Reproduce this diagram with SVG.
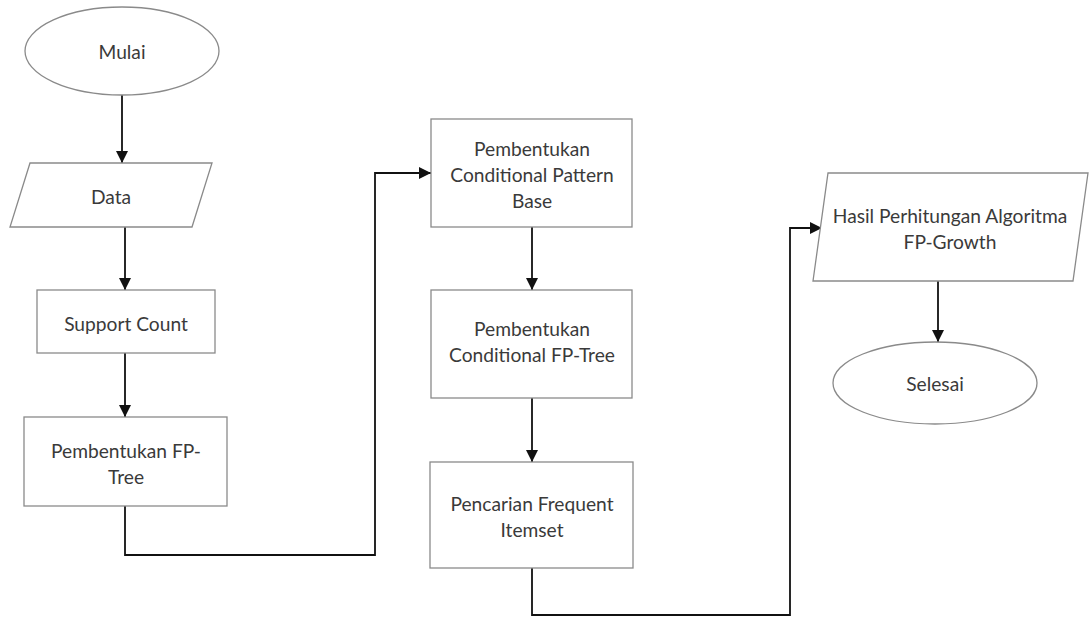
<svg xmlns="http://www.w3.org/2000/svg" width="1090" height="619" viewBox="0 0 1090 619">
<style>
.shape{fill:#fff;stroke:#8a8a8a;stroke-width:1.3}
.t{font-family:Lato,"Open Sans",sans-serif;font-size:19.2px;fill:#3a3a3a;text-anchor:middle;dominant-baseline:central}
.c{fill:none;stroke:#111;stroke-width:1.8}
</style>
<defs>
<marker id="ah" viewBox="0 0 10 10" refX="10" refY="5" markerWidth="12" markerHeight="12" markerUnits="userSpaceOnUse" orient="auto">
<path d="M0,0 L10,5 L0,10 z" fill="#111"/>
</marker>
</defs>
<rect width="1090" height="619" fill="#fff"/>
<g id="connectors">
<path class="c" d="M122,95 V163" marker-end="url(#ah)"/>
<path class="c" d="M125,227 V290" marker-end="url(#ah)"/>
<path class="c" d="M125,353 V417" marker-end="url(#ah)"/>
<path class="c" d="M125,506 V555 H375 V173 H431" marker-end="url(#ah)"/>
<path class="c" d="M532,227 V290" marker-end="url(#ah)"/>
<path class="c" d="M532,398 V462" marker-end="url(#ah)"/>
<path class="c" d="M532,568 V615 H790 V228 H822" marker-end="url(#ah)"/>
<path class="c" d="M938,281 V342" marker-end="url(#ah)"/>
</g>
<g id="mulai">
<ellipse class="shape" cx="122" cy="51" rx="97" ry="44"/>
<text class="t" x="122" y="51">Mulai</text>
</g>
<g id="data">
<polygon class="shape" points="30,163 212,163 192,227 10,227"/>
<text class="t" x="111" y="196">Data</text>
</g>
<g id="support">
<rect class="shape" x="37" y="290" width="178" height="63"/>
<text class="t" x="126" y="323">Support Count</text>
</g>
<g id="fptree">
<rect class="shape" x="24" y="417" width="203" height="89"/>
<text class="t" x="126" y="450">Pembentukan FP-</text>
<text class="t" x="126" y="476">Tree</text>
</g>
<g id="cpb">
<rect class="shape" x="431" y="119" width="201" height="108"/>
<text class="t" x="532" y="148">Pembentukan</text>
<text class="t" x="532" y="174">Conditional Pattern</text>
<text class="t" x="532" y="200">Base</text>
</g>
<g id="cfptree">
<rect class="shape" x="431" y="290" width="201" height="108"/>
<text class="t" x="532" y="328">Pembentukan</text>
<text class="t" x="532" y="354">Conditional FP-Tree</text>
</g>
<g id="frequent">
<rect class="shape" x="430" y="462" width="203" height="106"/>
<text class="t" x="532" y="503">Pencarian Frequent</text>
<text class="t" x="532" y="529">Itemset</text>
</g>
<g id="hasil">
<polygon class="shape" points="828,173 1088,173 1073,281 813,281"/>
<text class="t" x="950" y="215">Hasil Perhitungan Algoritma</text>
<text class="t" x="950" y="241">FP-Growth</text>
</g>
<g id="selesai">
<ellipse class="shape" cx="935" cy="383" rx="102" ry="41"/>
<text class="t" x="935" y="383">Selesai</text>
</g>
</svg>
